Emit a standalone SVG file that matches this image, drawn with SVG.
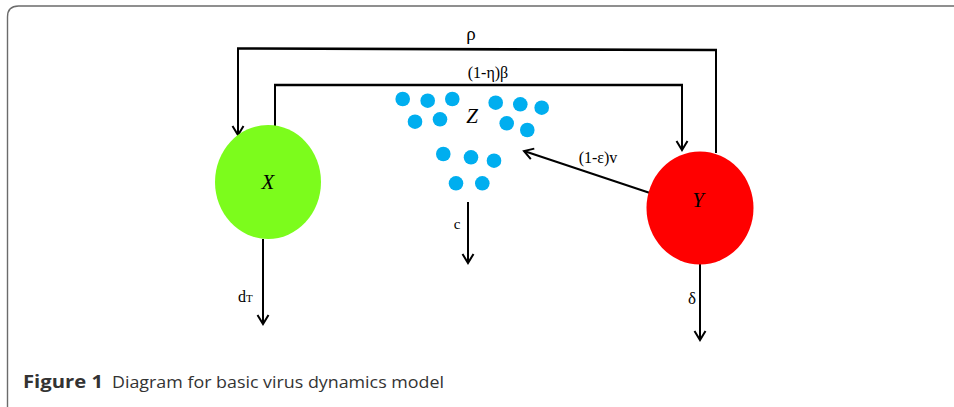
<svg xmlns="http://www.w3.org/2000/svg" width="954" height="407" viewBox="0 0 954 407">
<defs>
<marker id="arr" markerWidth="14" markerHeight="14" refX="12" refY="7" orient="auto" markerUnits="userSpaceOnUse">
<path d="M3,1.5 L12,7 L3,12.5" fill="none" stroke="#000" stroke-width="2"/>
</marker>
</defs>
<style>
.ln{fill:none;stroke:#000;stroke-width:2}
.hl{fill:none;stroke:#000;stroke-width:2.6}
.lbl{font-family:"Liberation Serif",serif;fill:#000}
.it{font-family:"Liberation Serif",serif;font-style:italic;font-size:21px;fill:#000}
.dot{fill:#00AEEF}
.cap{font-family:"Open Sans",sans-serif;font-size:17px;fill:#333}
</style>
<rect width="954" height="407" fill="#fff"/>
<path d="M7.5,420 L7.5,17 Q7.5,6 18.5,6 L960,6" fill="none" stroke="#6b6b6b" stroke-width="1.4"/>
<g id="connectors">
<path class="hl" d="M237,48.5 L717,50"/>
<path class="ln" d="M238,48 L238,135" marker-end="url(#arr)"/>
<path class="ln" d="M716,49 L716,153"/>
<path class="hl" d="M274,85 L683,85"/>
<path class="ln" d="M275,84 L275,126"/>
<path class="ln" d="M682,84 L682,150" marker-end="url(#arr)"/>
<path class="ln" d="M650,193 L524,151" marker-end="url(#arr)"/>
<path class="ln" d="M263,239 L263,324" marker-end="url(#arr)"/>
<path class="ln" d="M468,202 L468,263" marker-end="url(#arr)"/>
<path class="ln" d="M700,264 L700,340" marker-end="url(#arr)"/>
<text class="lbl" x="471" y="40" font-size="19" text-anchor="middle">ρ</text>
<text class="lbl" x="488" y="78" font-size="16" text-anchor="middle">(1-η)β</text>
<text class="lbl" x="598" y="163" font-size="16" text-anchor="middle">(1-ε)v</text>
<text class="lbl" x="457" y="229" font-size="15" text-anchor="middle">c</text>
<text class="lbl" x="692" y="304" font-size="17" text-anchor="middle">δ</text>
<text class="lbl" x="238" y="302" font-size="16">d<tspan font-size="11">T</tspan></text>
</g>
<g id="X">
<ellipse cx="268" cy="182" rx="53" ry="57" fill="#7CFC1C"/>
<text class="it" x="268" y="182" text-anchor="middle" dominant-baseline="central">X</text>
</g>
<g id="Y">
<ellipse cx="700" cy="208" rx="53.5" ry="56.5" fill="#FF0000"/>
<text class="it" x="698" y="200" text-anchor="middle" dominant-baseline="central">Y</text>
</g>
<g id="Z">
<circle class="dot" cx="402.7" cy="99" r="7.3"/>
<circle class="dot" cx="427.7" cy="100.7" r="7.3"/>
<circle class="dot" cx="452.3" cy="99" r="7.3"/>
<circle class="dot" cx="415" cy="121.7" r="7.3"/>
<circle class="dot" cx="440" cy="119.3" r="7.3"/>
<circle class="dot" cx="495.7" cy="102.7" r="7.3"/>
<circle class="dot" cx="520.3" cy="104.3" r="7.3"/>
<circle class="dot" cx="541.7" cy="107.7" r="7.3"/>
<circle class="dot" cx="506.7" cy="123.3" r="7.3"/>
<circle class="dot" cx="527.3" cy="130" r="7.3"/>
<circle class="dot" cx="443.3" cy="154" r="7.3"/>
<circle class="dot" cx="471" cy="157.3" r="7.3"/>
<circle class="dot" cx="494" cy="160.7" r="7.3"/>
<circle class="dot" cx="456" cy="183.3" r="7.3"/>
<circle class="dot" cx="482.3" cy="183.3" r="7.3"/>
<text class="it" x="472" y="116" text-anchor="middle" dominant-baseline="central">Z</text>
</g>
<text class="cap" x="23" y="388"><tspan font-weight="bold" textLength="80" lengthAdjust="spacingAndGlyphs">Figure 1</tspan><tspan x="112" textLength="332" lengthAdjust="spacingAndGlyphs">Diagram for basic virus dynamics model</tspan></text>
</svg>
